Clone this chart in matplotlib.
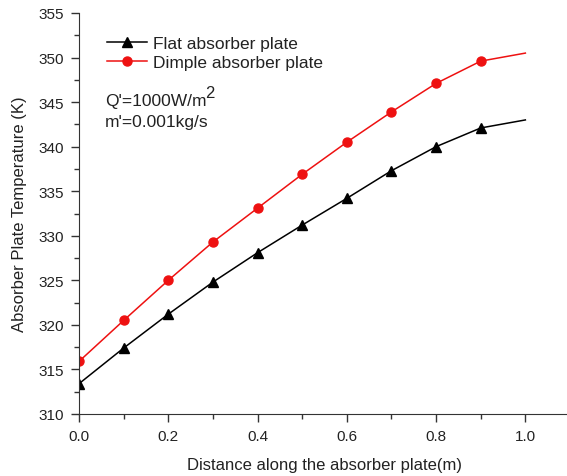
import matplotlib
matplotlib.use("Agg")
import matplotlib.pyplot as plt
from matplotlib.ticker import MultipleLocator

plt.rcParams['font.family'] = ['Liberation Sans', 'DejaVu Sans']

# distance along plate (m)
x = [0.0, 0.1, 0.2, 0.3, 0.4, 0.5, 0.6, 0.7, 0.8, 0.9, 1.0]
# absorber plate temperature (K)
flat = [313.4, 317.4, 321.2, 324.8, 328.1, 331.2, 334.2, 337.3, 340.0, 342.1, 343.0]
dimple = [315.9, 320.5, 325.0, 329.3, 333.1, 336.9, 340.5, 343.9, 347.1, 349.6, 350.5]
nmark = 10  # markers only on the first ten points

W, H = 567, 477
fig = plt.figure(figsize=(W/100, H/100), dpi=100)
ax = fig.add_axes([79/W, 62/H, 491/W, 401/H])

txt = '#222222'
ax.plot(x, flat, color='black', lw=1.1, marker='^', ms=7,
        markevery=list(range(nmark)), label='Flat absorber plate')
ax.plot(x, dimple, color='#ee1111', lw=1.1, marker='o', ms=6.5,
        markevery=list(range(nmark)), label='Dimple absorber plate')

ax.set_xlim(0, 1.1)
ax.set_ylim(310, 355)
ax.xaxis.set_major_locator(MultipleLocator(0.2))
ax.xaxis.set_minor_locator(MultipleLocator(0.1))
ax.yaxis.set_major_locator(MultipleLocator(5))
ax.yaxis.set_minor_locator(MultipleLocator(2.5))
ax.xaxis.set_major_formatter(plt.FormatStrFormatter('%.1f'))
ax.spines['top'].set_visible(False)
ax.spines['right'].set_visible(False)
for s in ('left', 'bottom'):
    ax.spines[s].set_color('#333333')
ax.tick_params(which='major', direction='out', length=6, width=1, colors='#333333',
               labelsize=11, labelcolor=txt, pad=5)
ax.tick_params(which='minor', direction='out', length=3.5, width=1, colors='#333333')

ax.set_xlabel('Distance along the absorber plate(m)', fontsize=12, color=txt, labelpad=10)
ax.set_ylabel('Absorber Plate Temperature (K)', fontsize=12, color=txt, labelpad=8)

ax.legend(loc='upper left', bbox_to_anchor=(0.025, 0.983), frameon=False, fontsize=12.5,
          handlelength=2.3, handletextpad=0.35, labelspacing=0.25, labelcolor=txt)
# big raised "2" as in the original
ax.text(105/W, 1 - 102/H, "Q'=1000W/m", transform=fig.transFigure,
        fontsize=12.5, color=txt, va='center')
ax.text(205/W, 1 - 94/H, "2", transform=fig.transFigure,
        fontsize=12, color=txt, va='center')
ax.text(105/W, 1 - 123/H, "m'=0.001kg/s", transform=fig.transFigure,
        fontsize=12.5, color=txt, va='center')

fig.savefig('out.png', dpi=100)
